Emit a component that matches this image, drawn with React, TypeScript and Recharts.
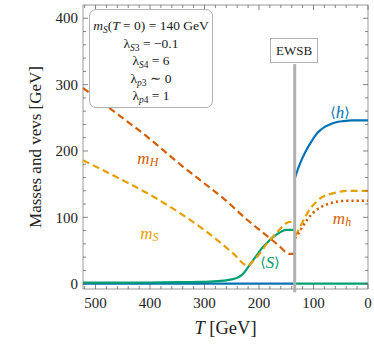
import React from 'react';
import {
  ComposedChart,
  Line,
  XAxis,
  YAxis,
  ReferenceArea,
  ReferenceLine,
  ReferenceDot,
} from 'recharts';

// temperatures (GeV) and values (GeV)
const hLowT = [523, 134.5];
const hLowV = [0, 0];
const hHighT = [134.5, 128, 120, 112, 104, 96, 88, 80, 70, 60, 45, 30, 0];
const hHighV = [158, 174, 190, 203, 214, 224, 231, 236, 240, 243, 245, 246, 246];

const sLowT = [523, 450, 380, 320, 290, 265, 250, 240, 232, 226, 220, 212, 204, 196, 186, 176, 166, 158, 150, 134.5];
const sLowV = [1.5, 1.5, 2, 2.5, 3, 4.5, 6.5, 9, 13, 18, 25, 34, 43, 52, 61, 69, 75, 79, 81, 81];
const sHighT = [134.5, 0];
const sHighV = [0, 0];

const mHT = [523, 467, 406, 345, 300, 266, 217, 205, 162, 150, 145, 134.5];
const mHV = [295, 260, 222, 180, 151, 129, 93, 85, 56, 47, 45, 45];

const mST = [523, 467, 400, 350, 309, 280, 248, 220, 210, 198, 186, 174, 162, 150, 145, 134.5];
const mSV = [186, 163, 134, 109, 86, 68, 46, 27, 35, 46, 60, 71, 82, 91, 93, 93];
const mSAfterT = [133, 128, 120, 113, 105, 95, 85, 70, 55, 40, 20, 0];
const mSAfterV = [72, 80, 93, 104, 114, 123, 130, 135, 138, 140, 140, 140];

const mhT = [134, 128, 120, 112, 104, 95, 85, 70, 55, 35, 0];
const mhV = [68, 75, 86, 96, 104, 111, 116, 121, 124, 125, 125];

const xTicks = [0, 20, 40, 60, 80, 100, 120, 140, 160, 180, 200, 220, 240, 260, 280, 300, 320, 340, 360, 380, 400, 420, 440, 460, 480, 500, 520];
const yTicks = [0, 20, 40, 60, 80, 100, 120, 140, 160, 180, 200, 220, 240, 260, 280, 300, 320, 340, 360, 380, 400];

const T_EWSB = 134.5;

const zip = (t: number[], v: number[]) => t.map((x, i) => ({ t: x, v: v[i] }));

const BLUE = '#0072B2';
const GREEN = '#009E73';
const ORANGE = '#E69F00';
const RUST = '#D55E00';
const SERIF = "'Liberation Serif', 'Times New Roman', Times, 'DejaVu Serif', serif";

const W = 374;
const H = 344;
const PT = 5;
const PB = 289;
const PL = 83;
const PR = 368;

const XTick = (p: any) => {
  const v = p.payload.value;
  const major = v % 100 === 0;
  const len = major ? 5 : 3;
  return (
    <g>
      <line x1={p.x} x2={p.x} y1={PB} y2={PB - len} stroke="#666" strokeWidth={0.8} />
      <line x1={p.x} x2={p.x} y1={PT} y2={PT + len} stroke="#666" strokeWidth={0.8} />
      {major && (
        <text x={p.x} y={PB + 19} textAnchor="middle" fontSize={15} style={{ fontFamily: SERIF }} fill="#222">
          {v}
        </text>
      )}
    </g>
  );
};

const YTick = (p: any) => {
  const v = p.payload.value;
  const major = v % 100 === 0;
  const len = major ? 5 : 3;
  return (
    <g>
      <line x1={PL} x2={PL + len} y1={p.y} y2={p.y} stroke="#666" strokeWidth={0.8} />
      <line x1={PR} x2={PR - len} y1={p.y} y2={p.y} stroke="#666" strokeWidth={0.8} />
      {major && (
        <text x={PL - 5} y={p.y + 5.2} textAnchor="end" fontSize={15} style={{ fontFamily: SERIF }} fill="#222">
          {v}
        </text>
      )}
    </g>
  );
};

const mathLabel = (main: string, sub: string, color: string, brackets = false) => (p: any) => (
  <text
    x={p.cx}
    y={p.cy}
    textAnchor="middle"
    dominantBaseline="central"
    style={{ fontFamily: SERIF }}
    fontSize={17}
    fill={color}
  >
    {brackets ? (
      <>
        <tspan style={{ fontFamily: 'DejaVu Serif' }} fontSize={14}>⟨</tspan>
        <tspan fontStyle="italic">{main}</tspan>
        <tspan style={{ fontFamily: 'DejaVu Serif' }} fontSize={14}>⟩</tspan>
      </>
    ) : (
      <>
        <tspan fontStyle="italic">{main}</tspan>
        <tspan fontStyle="italic" fontSize={12} dy={4}>{sub}</tspan>
      </>
    )}
  </text>
);

const Sub = ({ children }: { children: React.ReactNode }) => (
  <span style={{ fontSize: 9.5, position: 'relative', top: 3 }}>{children}</span>
);

const row: React.CSSProperties = { height: 17.5, lineHeight: '17.5px', whiteSpace: 'nowrap' };

export default function App() {
  return (
    <div style={{ position: 'absolute', left: 0, top: 0, width: W, height: H, background: '#fff' }}>
      <ComposedChart width={W} height={H} margin={{ top: PT, right: W - PR, bottom: 0, left: 0 }}>
        <XAxis
          dataKey="t"
          type="number"
          domain={[0, 523]}
          reversed
          ticks={xTicks}
          interval={0}
          height={H - PB}
          axisLine={false}
          tickLine={false}
          tickSize={0}
          tick={XTick}
          label={{
            content: (p: any) => (
              <text
                x={p.viewBox.x + p.viewBox.width / 2}
                y={p.viewBox.y + 44.5}
                textAnchor="middle"
                style={{ fontFamily: SERIF }}
                fontSize={18.5}
                fill="#222"
              >
                <tspan fontStyle="italic">T</tspan>
                <tspan>{'  [GeV]'}</tspan>
              </text>
            ),
          }}
        />
        <YAxis
          dataKey="v"
          type="number"
          domain={[-8, 420]}
          ticks={yTicks}
          interval={0}
          width={PL}
          axisLine={false}
          tickLine={false}
          tickSize={0}
          tick={YTick}
          label={{
            content: (p: any) => {
              const cx = 35;
              const cy = p.viewBox.y + p.viewBox.height / 2;
              return (
                <text
                  x={cx}
                  y={cy}
                  transform={`rotate(-90 ${cx} ${cy})`}
                  textAnchor="middle"
                  dominantBaseline="central"
                  style={{ fontFamily: SERIF }}
                  fontSize={17}
                  fill="#222"
                >
                  Masses and vevs [GeV]
                </text>
              );
            },
          }}
        />
        <ReferenceArea x1={0} x2={523} y1={-8} y2={420} fill="none" stroke="#999" strokeWidth={1} />

        <Line data={zip(hLowT, hLowV)} dataKey="v" type="monotone" stroke={BLUE} strokeWidth={2.2} dot={false} isAnimationActive={false} />
        <Line data={zip(sLowT, sLowV)} dataKey="v" type="monotone" stroke={GREEN} strokeWidth={2.2} dot={false} isAnimationActive={false} />
        <Line data={zip(sHighT, sHighV)} dataKey="v" type="monotone" stroke={GREEN} strokeWidth={2.2} dot={false} isAnimationActive={false} />
        <Line data={zip(mHT, mHV)} dataKey="v" type="monotone" stroke={RUST} strokeWidth={2.2} strokeDasharray="7 4" dot={false} isAnimationActive={false} />
        <Line data={zip(mST, mSV)} dataKey="v" type="monotone" stroke={ORANGE} strokeWidth={2.2} strokeDasharray="7 4" dot={false} isAnimationActive={false} />
        <Line data={zip(mSAfterT, mSAfterV)} dataKey="v" type="monotone" stroke={ORANGE} strokeWidth={2.2} strokeDasharray="7 4" dot={false} isAnimationActive={false} />
        <Line data={zip(mhT, mhV)} dataKey="v" type="monotone" stroke={RUST} strokeWidth={2.5} strokeDasharray="2.2 3" dot={false} isAnimationActive={false} />
        <Line data={zip(hHighT, hHighV)} dataKey="v" type="monotone" stroke={BLUE} strokeWidth={2.2} dot={false} isAnimationActive={false} />

        <ReferenceLine
          segment={[{ x: T_EWSB, y: -13 }, { x: T_EWSB, y: 331 }]}
          stroke="#b0b0b0"
          strokeWidth={3}
          ifOverflow="visible"
        />

        <ReferenceDot x={51.4} y={258.7} r={0} ifOverflow="visible" shape={mathLabel('h', '', BLUE, true)} />
        <ReferenceDot x={404} y={189} r={0} ifOverflow="visible" shape={mathLabel('m', 'H', RUST)} />
        <ReferenceDot x={401} y={76} r={0} ifOverflow="visible" shape={mathLabel('m', 'S', ORANGE)} />
        <ReferenceDot x={180} y={32} r={0} ifOverflow="visible" shape={mathLabel('S', '', GREEN, true)} />
        <ReferenceDot x={47.7} y={99} r={0} ifOverflow="visible" shape={mathLabel('m', 'h', RUST)} />
      </ComposedChart>

      <div
        style={{
          position: 'absolute',
          left: 89,
          top: 9,
          width: 122,
          height: 90,
          border: '1.5px solid #b3b3b3',
          borderRadius: 7,
          background: '#fff',
          fontFamily: SERIF,
          fontSize: 13.5,
          textAlign: 'center',
          paddingTop: 7,
          boxSizing: 'content-box',
          color: '#222',
          overflow: 'hidden',
        }}
      >
        <div style={row}>
          <i>m</i>
          <Sub><i>S</i></Sub>(<i>T</i> = 0) = 140 GeV
        </div>
        <div style={row}>
          λ<Sub><i>S</i>3</Sub> = −0.1
        </div>
        <div style={row}>
          λ<Sub><i>S</i>4</Sub> = 6
        </div>
        <div style={row}>
          λ<Sub><i>p</i>3</Sub> ∼ 0
        </div>
        <div style={row}>
          λ<Sub><i>p</i>4</Sub> = 1
        </div>
      </div>

      <div
        style={{
          position: 'absolute',
          left: 270,
          top: 38,
          width: 46,
          height: 23,
          border: '1.5px solid #b3b3b3',
          background: '#fff',
          fontFamily: SERIF,
          fontSize: 13,
          lineHeight: '23px',
          textAlign: 'center',
          color: '#222',
        }}
      >
        EWSB
      </div>
    </div>
  );
}
